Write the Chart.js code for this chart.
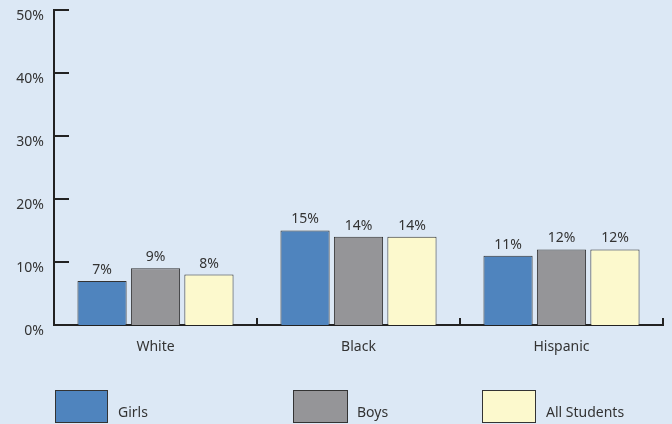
<!DOCTYPE html>
<html>
<head>
<meta charset="utf-8">
<script src="https://cdn.jsdelivr.net/npm/chart.js@4"></script>
<style>
  html, body { margin: 0; padding: 0; background: #dce8f5; }
  #wrap { position: relative; width: 672px; height: 424px; overflow: hidden; }
  canvas { position: absolute; left: 0; top: 0; }
  .key { position: absolute; top: 390px; height: 33px; box-sizing: border-box; border: 1px solid #333; }
  .keytext { position: absolute; top: 402px; font: 14px "Noto Sans", sans-serif; color: #333; line-height: 20px; }
</style>
</head>
<body>
<div id="wrap">
  <canvas id="myChart" width="672" height="424"></canvas>
  <div class="key" style="left:55px;width:53px;background:#4f84be"></div>
  <div class="keytext" style="left:118px">Girls</div>
  <div class="key" style="left:293px;width:55px;background:#959598"></div>
  <div class="keytext" style="left:357px">Boys</div>
  <div class="key" style="left:482px;width:54px;background:#fcf9cd"></div>
  <div class="keytext" style="left:546px">All Students</div>
</div>
<script>
var groups = ["White", "Black", "Hispanic"];
var seriesNames = ["Girls", "Boys", "All Students"];
var girls = [7, 15, 11];
var boys = [9, 14, 12];
var allStudents = [8, 14, 12];
var yTicks = [0, 10, 20, 30, 40, 50];
var barColors = ["#4f84be", "#959598", "#fcf9cd"];

var font = { family: "Noto Sans", size: 14 };

// value labels above bars + axis tick marks drawn inside the plot
var extras = {
  id: "extras",
  afterDatasetsDraw: function (chart) {
    var ctx = chart.ctx;
    ctx.save();
    ctx.font = "14px 'Noto Sans'";
    ctx.fillStyle = "#333";
    ctx.textAlign = "center";
    ctx.textBaseline = "bottom";
    chart.data.datasets.forEach(function (ds, i) {
      chart.getDatasetMeta(i).data.forEach(function (bar, j) {
        ctx.fillText(ds.data[j] + "%", bar.x, bar.y - 4);
      });
    });
    var x = chart.scales.x, y = chart.scales.y;
    ctx.strokeStyle = "#222";
    ctx.lineWidth = 2;
    ctx.beginPath();
    yTicks.forEach(function (v) {
      var py = Math.round(y.getPixelForValue(v));
      ctx.moveTo(x.left, py);
      ctx.lineTo(x.left + 15, py);
    });
    var w = (x.right - x.left) / groups.length;
    for (var k = 1; k <= groups.length; k++) {
      var px = Math.round(x.left + k * w);
      ctx.moveTo(px, y.bottom);
      ctx.lineTo(px, y.bottom - 7);
    }
    ctx.stroke();
    ctx.restore();
  }
};

new Chart("myChart", {
  type: "bar",
  data: {
    labels: groups,
    datasets: [
      { label: seriesNames[0], data: girls, backgroundColor: barColors[0] },
      { label: seriesNames[1], data: boys, backgroundColor: barColors[1] },
      { label: seriesNames[2], data: allStudents, backgroundColor: barColors[2] }
    ].map(function (d) {
      d.borderColor = "#333";
      d.borderWidth = 1;
      d.categoryPercentage = 0.79;
      d.barPercentage = 0.92;
      return d;
    })
  },
  options: {
    responsive: false,
    animation: false,
    layout: { padding: { top: 10, right: 9, left: 0, bottom: 0 } },
    plugins: { legend: { display: false }, tooltip: { enabled: false } },
    scales: {
      x: {
        grid: { display: false, drawTicks: false },
        border: { color: "#222", width: 2 },
        ticks: { color: "#333", font: font, padding: 14 },
        afterFit: function (s) { s.height = 99; s.paddingLeft = 0; s.paddingRight = 0; }
      },
      y: {
        min: 0,
        max: 50,
        afterBuildTicks: function (s) {
          s.ticks = yTicks.map(function (v) { return { value: v }; });
        },
        grid: { display: false, drawTicks: false },
        border: { color: "#222", width: 2 },
        ticks: {
          color: "#333",
          font: font,
          padding: 10,
          labelOffset: 6,
          callback: function (v) { return v + "%"; }
        },
        afterFit: function (s) { s.width = 54; s.paddingTop = 0; s.paddingBottom = 0; }
      }
    }
  },
  plugins: [extras]
});
</script>
</body>
</html>
